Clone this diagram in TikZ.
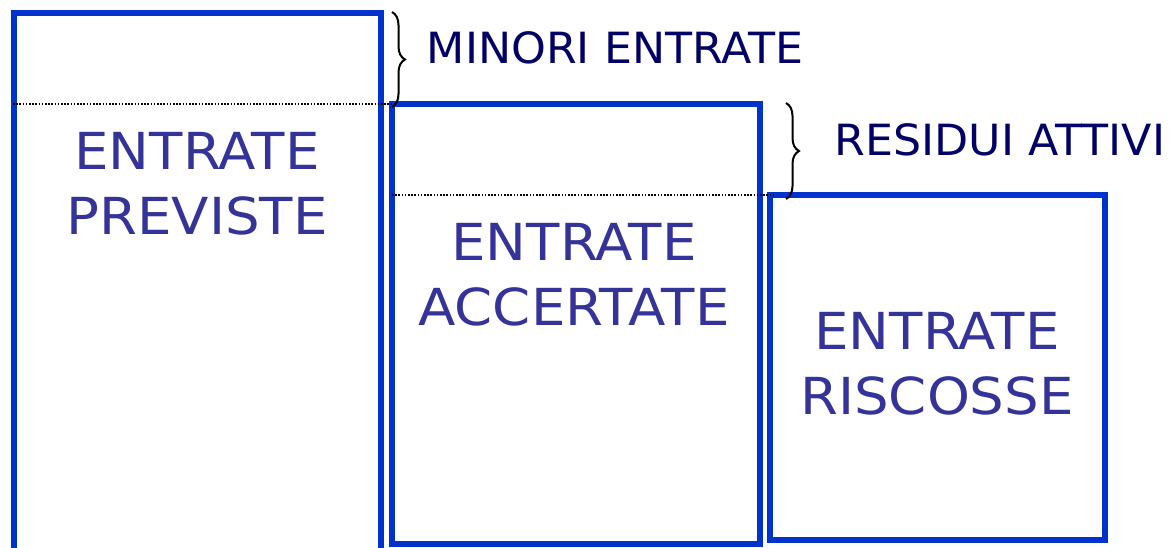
\documentclass[tikz,border=0pt]{standalone}
\usepackage{fontspec}
\setmainfont{DejaVu Sans}
\newfontfamily\bigfont[FakeStretch=1.07]{DejaVu Sans}
\newfontfamily\sidefont[FakeStretch=1.03]{DejaVu Sans}
\usetikzlibrary{decorations.pathreplacing}
\definecolor{boxblue}{HTML}{0033CC}
\definecolor{lblblue}{HTML}{333399}
\definecolor{navy}{HTML}{000066}
\tikzset{
  boxline/.style={draw=boxblue, line width=6pt},
  biglabel/.style={text=lblblue, align=center, inner sep=0pt, font=\bigfont\fontsize{51}{65}\selectfont},
  sidelabel/.style={text=navy, inner sep=0pt, font=\sidefont\fontsize{43}{50}\selectfont},
  dotline/.style={draw=black, line width=2pt, dash pattern=on 1.6pt off 1.6pt},
  bracestyle/.style={draw=black, line width=2pt, decorate, decoration={brace, amplitude=13pt}}
}
\begin{document}
\begin{tikzpicture}[x=1pt, y=-1pt]
\useasboundingbox (0,0) rectangle (1176,547);
\clip (0,0) rectangle (1176,547);
\fill[white] (0,0) rectangle (1176,547);
% boxes
\draw[boxline] (13.5,13) rectangle (381,620);
\draw[boxline] (391.5,104) rectangle (759.5,544);
\draw[boxline] (769.5,194.5) rectangle (1105,539.5);
% dotted lines
\coordinate (d1a) at (13,104);
\coordinate (d1b) at (396,104);
\coordinate (d2a) at (392,194.5);
\coordinate (d2b) at (774,194.5);
\draw[dotline] (d1a) -- (d1b);
\draw[dotline] (d2a) -- (d2b);
% braces
\coordinate (br1a) at (392,12);
\coordinate (br1b) at (392,107);
\coordinate (br2a) at (786,103);
\coordinate (br2b) at (786,199);
\draw[bracestyle] (br1a) -- (br1b);
\draw[bracestyle] (br2a) -- (br2b);
% labels
\node[biglabel] (prev) at (197,184) {ENTRATE\\PREVISTE};
\node[biglabel] (acc) at (574,275) {ENTRATE\\ACCERTATE};
\node[biglabel] (risc) at (937,364) {ENTRATE\\RISCOSSE};
\node[sidelabel] (minori) at (615,47.5) {MINORI ENTRATE};
\node[sidelabel] (residui) at (1000,140) {RESIDUI ATTIVI};
\end{tikzpicture}
\end{document}
